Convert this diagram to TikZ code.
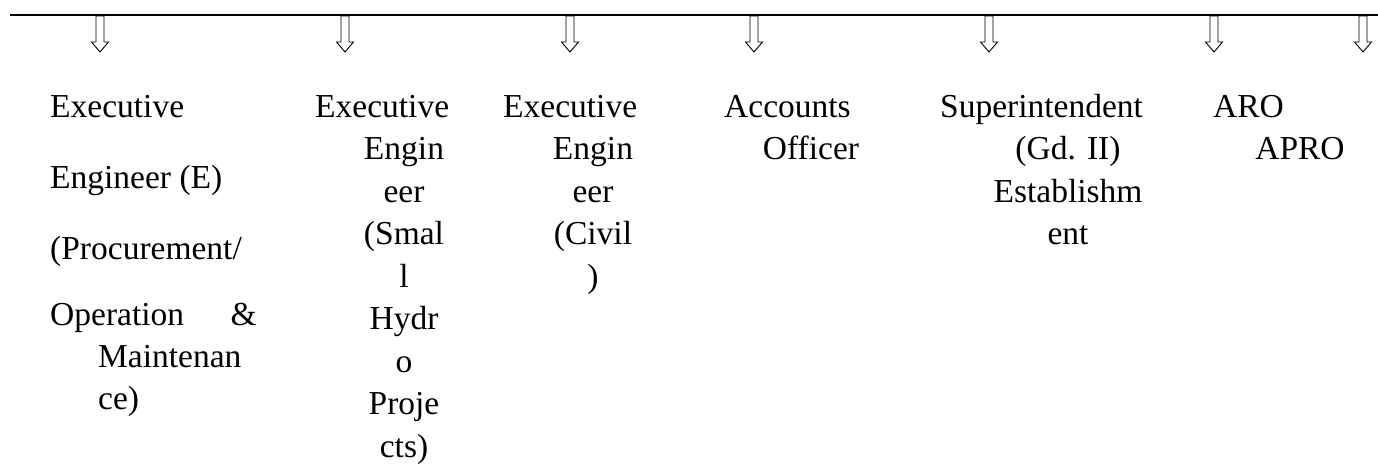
\documentclass[tikz,border=0pt]{standalone}
\usepackage{fontspec}
\setmainfont{Liberation Serif}
\usetikzlibrary{positioning}
\tikzset{
	post/.style={inner sep=0pt, font=\fontsize{33.5}{43}\selectfont},
	first/.style={post, anchor=base west},
	rest/.style={post, anchor=base},
	hollow/.style={draw, line width=0.9pt, fill=white, line join=miter}
}

\begin{document}
\begin{tikzpicture}[x=1pt, y=-1pt]
	\useasboundingbox (0,0) rectangle (1378,466);
	\draw[line width=2pt] (10,15) -- (1378,15);
	\foreach \x [count=\i] in {100,345,570,754,989,1214,1363}
		\coordinate (p\i) at (\x,15);
	\foreach \i in {1,...,7}
		\draw[hollow] (p\i) ++(-4,1) -- ++(0,26) -- ++(-4.5,0) -- ++(8.5,10) -- ++(8.5,-10) -- ++(-4.5,0) -- ++(0,-26) -- cycle;

	\node[first] (e1a) at (50,117) {Executive};
	\node[first] (e1b) at (50,188) {Engineer (E)};
	\node[first] (e1c) at (50,259) {(Procurement/};
	\node[first] (e1d) at (50,325) {Operation};
	\node[post, anchor=base east] (e1e) at (257,325) {\&};
	\node[first] (e1f) at (98,367) {Maintenan};
	\node[first] (e1g) at (98,409) {ce)};

	\node[first] (e2) at (315,117) {Executive};
	\foreach \t [count=\i] in {Engin,eer,{(Smal},l,Hydr,o,Proje,{cts)}}
		\node[rest] (e2\i) at (404,117+42.5*\i) {\t};

	\node[first] (e3) at (503,117) {Executive};
	\foreach \t [count=\i] in {Engin,eer,{(Civil},{)}}
		\node[rest] (e3\i) at (593,117+42.5*\i) {\t};

	\node[first] (ao) at (724,117) {Accounts};
	\node[rest] (ao1) at (811,159.5) {Officer};

	\node[first] (sup) at (940,117) {Superintendent};
	\foreach \t [count=\i] in {{(Gd. II)},Establishm,ent}
		\node[rest] (sup\i) at (1068,117+42.5*\i) {\t};

	\node[first] (aro) at (1213,117) {ARO};
	\node[rest] (apro) at (1300,159.5) {APRO};
\end{tikzpicture}
\end{document}
